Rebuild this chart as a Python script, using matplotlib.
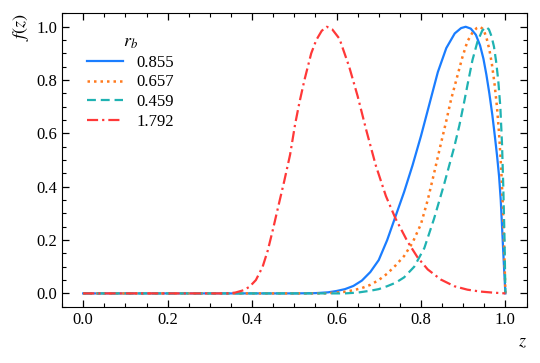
import numpy as np
import matplotlib
matplotlib.use("Agg")
import matplotlib.pyplot as plt
from matplotlib.ticker import MultipleLocator

plt.rcParams["font.family"] = "serif"
plt.rcParams["font.serif"] = ["Liberation Serif", "DejaVu Serif"]
plt.rcParams["mathtext.fontset"] = "stix"

# ============================================================
# DATA
# ============================================================

rb_labels = ["0.855", "0.657", "0.459", "1.792"]

z_blue = [0.0, 0.50, 0.55, 0.58, 0.60, 0.62, 0.64, 0.66, 0.68, 0.70,
          0.72, 0.74, 0.76, 0.78, 0.80, 0.82, 0.84, 0.86, 0.88, 0.895,
          0.906, 0.918, 0.930, 0.940, 0.948, 0.955, 0.962, 0.969, 0.975, 0.980,
          0.985, 0.989, 0.993, 0.997, 1.0]
f_blue = [0.0, 0.0, 0.001, 0.004, 0.009, 0.016, 0.028, 0.048, 0.08, 0.125,
          0.20, 0.29, 0.38, 0.48, 0.59, 0.71, 0.83, 0.92, 0.975, 0.995,
          1.0, 0.993, 0.97, 0.93, 0.88, 0.82, 0.75, 0.67, 0.59, 0.52,
          0.44, 0.35, 0.22, 0.09, 0.0]

z_orange = [0.0, 0.57, 0.60, 0.62, 0.64, 0.66, 0.68, 0.70, 0.72, 0.74,
            0.76, 0.78, 0.80, 0.816, 0.831, 0.847, 0.859, 0.871, 0.887, 0.898,
            0.910, 0.922, 0.932, 0.940, 0.948, 0.955, 0.962, 0.968, 0.974, 0.980,
            0.985, 0.990, 0.994, 0.997, 1.0]
f_orange = [0.0, 0.0, 0.003, 0.006, 0.012, 0.02, 0.032, 0.05, 0.074, 0.105,
            0.14, 0.19, 0.26, 0.35, 0.45, 0.56, 0.64, 0.725, 0.82, 0.885,
            0.945, 0.978, 0.995, 1.0, 0.99, 0.96, 0.915, 0.86, 0.79, 0.70,
            0.60, 0.47, 0.33, 0.18, 0.0]

z_teal = [0.0, 0.62, 0.65, 0.68, 0.70, 0.72, 0.74, 0.76, 0.784, 0.808,
          0.831, 0.855, 0.879, 0.891, 0.902, 0.910, 0.922, 0.934, 0.945, 0.954,
          0.961, 0.967, 0.973, 0.978, 0.983, 0.988, 0.992, 0.995, 0.998, 1.0]
f_teal = [0.0, 0.0, 0.003, 0.01, 0.016, 0.027, 0.04, 0.06, 0.10, 0.17,
          0.28, 0.41, 0.55, 0.63, 0.715, 0.78, 0.875, 0.945, 0.985, 1.0,
          0.99, 0.965, 0.925, 0.87, 0.80, 0.70, 0.56, 0.40, 0.20, 0.0]

z_red = [0.0, 0.34, 0.36, 0.38, 0.394, 0.409, 0.425, 0.437, 0.449, 0.461,
         0.476, 0.490, 0.502, 0.512, 0.524, 0.540, 0.552, 0.565, 0.577, 0.590,
         0.607, 0.630, 0.650, 0.670, 0.693, 0.717, 0.740, 0.768, 0.792, 0.816,
         0.847, 0.879, 0.910, 0.940, 0.970, 1.0]
f_red = [0.0, 0.0, 0.003, 0.012, 0.025, 0.05, 0.10, 0.16, 0.237, 0.319,
         0.42, 0.52, 0.635, 0.715, 0.80, 0.90, 0.95, 0.985, 1.0, 0.99,
         0.955, 0.85, 0.74, 0.615, 0.48, 0.365, 0.28, 0.195, 0.135, 0.09,
         0.052, 0.027, 0.014, 0.007, 0.003, 0.0]

# ============================================================
# PLOT
# ============================================================

fig = plt.figure(figsize=(5.4, 3.63), dpi=100)
ax = fig.add_axes([0.115, 0.155, 0.86, 0.808])

ax.plot(z_blue, f_blue, color="#1a7dff", lw=1.6, ls="-", label=rb_labels[0])
ax.plot(z_orange, f_orange, color="#ff7a1f", lw=1.8, ls=(0, (1, 1.6)), label=rb_labels[1])
ax.plot(z_teal, f_teal, color="#1fb2b2", lw=1.6, ls=(0, (4, 2.2)), label=rb_labels[2])
ax.plot(z_red, f_red, color="#ff3838", lw=1.6, ls=(0, (5, 1.8, 1, 1.8)), label=rb_labels[3])

ax.set_xlim(-0.05, 1.05)
ax.set_ylim(-0.05, 1.05)

ax.xaxis.set_major_locator(MultipleLocator(0.2))
ax.xaxis.set_minor_locator(MultipleLocator(0.05))
ax.yaxis.set_major_locator(MultipleLocator(0.2))
ax.yaxis.set_minor_locator(MultipleLocator(0.05))

ax.tick_params(which="both", direction="in", top=True, right=True, labelsize=12)
ax.tick_params(which="major", length=5, width=0.9)
ax.tick_params(which="minor", length=3, width=0.8)

ax.set_xlabel("$z$", fontsize=13, loc="right")
ax.set_ylabel("$f(z)$", fontsize=13, loc="top")

leg = ax.legend(title="$r_b$", loc="upper left", bbox_to_anchor=(0.033, 0.965),
                frameon=False, fontsize=12, title_fontsize=13,
                handlelength=2.15, labelspacing=0.22, borderaxespad=0.2)

fig.savefig("out.png", dpi=100)
